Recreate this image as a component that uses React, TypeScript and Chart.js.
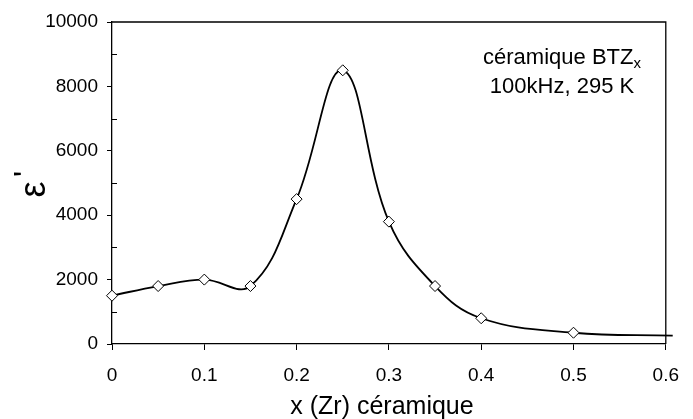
import React, { useEffect, useRef } from "react";
import { Chart, registerables } from "chart.js";

Chart.register(...registerables);

// Measured points (x = Zr fraction, ε')
const xValues = [0, 0.05, 0.1, 0.15, 0.2, 0.25, 0.3, 0.35, 0.4, 0.5];
const epsValues = [1500, 1800, 2000, 1800, 4500, 8500, 3800, 1800, 800, 350];
// Smoothed curve tail beyond last point
const curveTailX = [0.6075];
const curveTailY = [260];

const xTickLabels = ["0", "0.1", "0.2", "0.3", "0.4", "0.5", "0.6"];
const yTickLabels = ["0", "2000", "4000", "6000", "8000", "10000"];
const yMinorTicks = [1000, 3000, 5000, 7000, 9000];

const xTitle = "x (Zr) céramique";
const yTitleMain = "ε";
const yTitlePrime = "'";
const noteLine1 = "céramique BTZ";
const noteSub = "x";
const noteLine2 = "100kHz, 295 K";

const FONT = "'Liberation Sans', Arial, sans-serif";

const decorPlugin = {
  id: "decor",
  afterDraw(chart: any) {
    const ctx = chart.ctx;
    const { left, right, top, bottom } = chart.chartArea;
    const yScale = chart.scales.y;
    ctx.save();
    ctx.strokeStyle = "#000";
    ctx.lineWidth = 1.3;
    // frame: top and right
    ctx.beginPath();
    ctx.moveTo(left, top);
    ctx.lineTo(right, top);
    ctx.lineTo(right, bottom);
    ctx.stroke();
    // minor ticks inside
    ctx.lineWidth = 1;
    ctx.beginPath();
    yMinorTicks.forEach((v) => {
      const y = Math.round(yScale.getPixelForValue(v)) + 0.5;
      ctx.moveTo(left, y);
      ctx.lineTo(left + 5, y);
    });
    ctx.stroke();

    ctx.fillStyle = "#000";
    // annotation
    ctx.font = `22px ${FONT}`;
    const w1 = ctx.measureText(noteLine1).width;
    ctx.font = `15px ${FONT}`;
    const ws = ctx.measureText(noteSub).width;
    const cx = 562;
    const x0 = cx - (w1 + ws) / 2;
    ctx.textAlign = "left";
    ctx.textBaseline = "alphabetic";
    ctx.font = `22px ${FONT}`;
    ctx.fillText(noteLine1, x0, 64);
    ctx.font = `15px ${FONT}`;
    ctx.fillText(noteSub, x0 + w1, 68);
    ctx.font = `22px ${FONT}`;
    ctx.textAlign = "center";
    ctx.fillText(noteLine2, cx, 93);

    // x title
    ctx.font = `25px ${FONT}`;
    ctx.textAlign = "center";
    ctx.fillText(xTitle, 382, 414);

    // y title (rotated)
    ctx.translate(45, 183);
    ctx.rotate(-Math.PI / 2);
    ctx.font = `36px ${FONT}`;
    ctx.textAlign = "center";
    ctx.fillText(yTitleMain, -6.5, 0);
    ctx.font = `32px ${FONT}`;
    ctx.fillText(yTitlePrime, 9, -9);
    ctx.restore();
  },
};

export default function App() {
  const canvasRef = useRef<HTMLCanvasElement | null>(null);

  useEffect(() => {
    document.body.style.margin = "0";
    const canvas = canvasRef.current;
    if (!canvas) return;
    const markerData = xValues.map((x, i) => ({ x, y: epsValues[i] }));
    const curveData = [
      ...markerData,
      ...curveTailX.map((x, i) => ({ x, y: curveTailY[i] })),
    ];
    const chart = new Chart(canvas, {
      type: "scatter",
      data: {
        datasets: [
          {
            label: "points",
            data: markerData,
            showLine: false,
            pointStyle: "rectRot",
            pointRadius: 5.5,
            pointBackgroundColor: "#fff",
            pointBorderColor: "#000",
            pointBorderWidth: 1,
            clip: false as any,
          },
          {
            label: "curve",
            data: curveData,
            showLine: true,
            tension: 0.4,
            borderColor: "#000",
            borderWidth: 1.8,
            pointRadius: 0,
            clip: false as any,
          },
        ],
      },
      options: {
        animation: false,
        responsive: false,
        layout: { padding: { left: 0, right: 27, top: 22, bottom: 0 } },
        plugins: {
          legend: { display: false },
          tooltip: { enabled: false },
        },
        scales: {
          x: {
            type: "linear",
            min: 0,
            max: 0.6,
            afterFit: (s: any) => {
              s.height = 75;
            },
            border: { color: "#000", width: 1.3 },
            grid: {
              drawOnChartArea: false,
              drawTicks: true,
              tickLength: 6,
              color: "#000",
            },
            ticks: {
              stepSize: 0.1,
              padding: 14,
              color: "#000",
              font: { family: FONT, size: 19 },
              callback: (_v: any, i: number) => xTickLabels[i],
              maxRotation: 0,
            },
          },
          y: {
            type: "linear",
            min: 0,
            max: 10000,
            afterFit: (s: any) => {
              s.width = 112;
            },
            border: { color: "#000", width: 1.3 },
            grid: {
              drawOnChartArea: false,
              drawTicks: true,
              tickLength: 5,
              color: "#000",
            },
            ticks: {
              stepSize: 2000,
              padding: 9,
              color: "#000",
              font: { family: FONT, size: 19 },
              callback: (_v: any, i: number) => yTickLabels[i],
            },
          },
        },
      },
      plugins: [decorPlugin],
    });
    return () => chart.destroy();
  }, []);

  return (
    <div style={{ width: 693, height: 419 }}>
      <canvas ref={canvasRef} width={693} height={419} style={{ display: "block" }} />
    </div>
  );
}
